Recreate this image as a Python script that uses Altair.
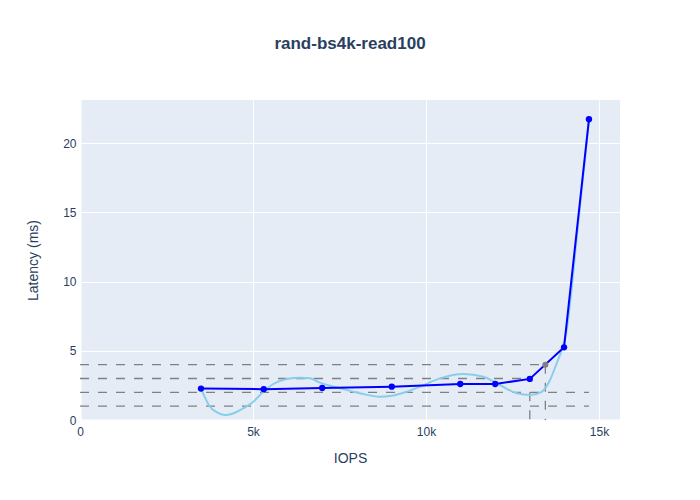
import altair as alt
import pandas as pd

title_text = "rand-bs4k-read100"

# measured points
iops = [3497, 5310, 7000, 9010, 10990, 12000, 13000, 13990, 14710]
latency = [2.27, 2.23, 2.31, 2.41, 2.60, 2.60, 2.97, 5.25, 21.73]

# fitted curve
fit_iops = [3497, 3757, 4000, 4191, 4400, 4624, 5009, 5298, 5587, 5974, 6358, 6647,
            6936, 7514, 8092, 8671, 8960, 9442, 9827, 10405, 11078, 11656, 12139,
            12621, 13006, 13344, 13584, 13777, 13922, 14050, 14370, 14620, 14711]
fit_latency = [2.29, 0.96, 0.50, 0.36, 0.45, 0.72, 1.32, 2.04, 2.60, 2.96, 3.06, 3.01,
               2.70, 2.29, 1.93, 1.68, 1.73, 2.04, 2.41, 3.01, 3.32, 3.13, 2.53,
               1.93, 1.81, 2.04, 2.89, 4.10, 5.06, 6.29, 13.5, 19.5, 21.68]

# reference dashed lines
hline_y = [4, 3, 2, 1]
hline_end = [13450, 13000, 14710, 14710]
vline_x = [13000, 13450]
vline_top = [2, 4]
knee_iops = [13450]
knee_latency = [4.0]

x_ticks = [0, 5000, 10000, 15000]
y_ticks = [0, 5, 10, 15, 20]

pts = pd.DataFrame({"IOPS": iops, "Latency": latency})
fit = pd.DataFrame({"IOPS": fit_iops, "Latency": fit_latency})
hl = pd.DataFrame({"x0": [0] * len(hline_y), "x1": hline_end, "y": hline_y})
vl = pd.DataFrame({"x": vline_x, "y0": [0] * len(vline_x), "y1": vline_top})
knee = pd.DataFrame({"IOPS": knee_iops, "Latency": knee_latency})

FONT = "Liberation Sans"
TXT = "#2a3f5f"

xscale = alt.Scale(domain=[0, 15607], nice=False, zero=False)
yscale = alt.Scale(domain=[0, 23.12], nice=False, zero=False)

xaxis = alt.Axis(values=x_ticks, title="IOPS", labelFlush=False,
                 labelExpr="datum.value == 0 ? '0' : (datum.value/1000) + 'k'")
yaxis = alt.Axis(values=y_ticks, title="Latency (ms)", labelFlush=False)

h_rules = alt.Chart(hl).mark_rule(color="#808080", strokeWidth=1.3, strokeDash=[9, 9]).encode(
    x=alt.X("x0:Q", scale=xscale, axis=xaxis),
    x2="x1:Q",
    y=alt.Y("y:Q", scale=yscale, axis=yaxis),
)
v_rules = alt.Chart(vl).mark_rule(color="#808080", strokeWidth=1.3, strokeDash=[9, 9]).encode(
    x=alt.X("x:Q", scale=xscale),
    y=alt.Y("y1:Q", scale=yscale),
    y2="y0:Q",
)
fit_line = alt.Chart(fit).mark_line(color="#87CEEB", strokeWidth=2, interpolate="monotone").encode(
    x=alt.X("IOPS:Q", scale=xscale),
    y=alt.Y("Latency:Q", scale=yscale),
)
main_line = alt.Chart(pts).mark_line(color="#0000ff", strokeWidth=2).encode(
    x=alt.X("IOPS:Q", scale=xscale),
    y=alt.Y("Latency:Q", scale=yscale),
)
main_pts = alt.Chart(pts).mark_circle(color="#0000ff", size=40, opacity=1).encode(
    x=alt.X("IOPS:Q", scale=xscale),
    y=alt.Y("Latency:Q", scale=yscale),
)
knee_pt = alt.Chart(knee).mark_circle(color="#808080", size=36, opacity=1).encode(
    x=alt.X("IOPS:Q", scale=xscale),
    y=alt.Y("Latency:Q", scale=yscale),
)

chart = alt.layer(h_rules, v_rules, fit_line, main_line, main_pts, knee_pt).properties(
    width=540,
    height=320,
    autosize=alt.AutoSizeParams(type="none"),
    padding={"left": 72, "top": 92, "right": 72, "bottom": 72},
    title=alt.TitleParams(title_text, anchor="middle", fontSize=17, fontWeight="bold",
                          font=FONT, color=TXT, offset=47),
).configure_view(
    fill="#E5ECF6", stroke=None
).configure_axis(
    grid=True, gridColor="white", gridWidth=1,
    domain=True, domainColor="white", domainWidth=2,
    ticks=False,
    labelFont=FONT, labelFontSize=12, labelColor=TXT,
    titleFont=FONT, titleFontSize=14, titleColor=TXT, titleFontWeight="normal",
).configure_axisX(
    labelPadding=6, titlePadding=14
).configure_axisY(
    labelPadding=4, titlePadding=22
)

chart.save("out.html", embed_options={"renderer": "svg", "actions": False})
